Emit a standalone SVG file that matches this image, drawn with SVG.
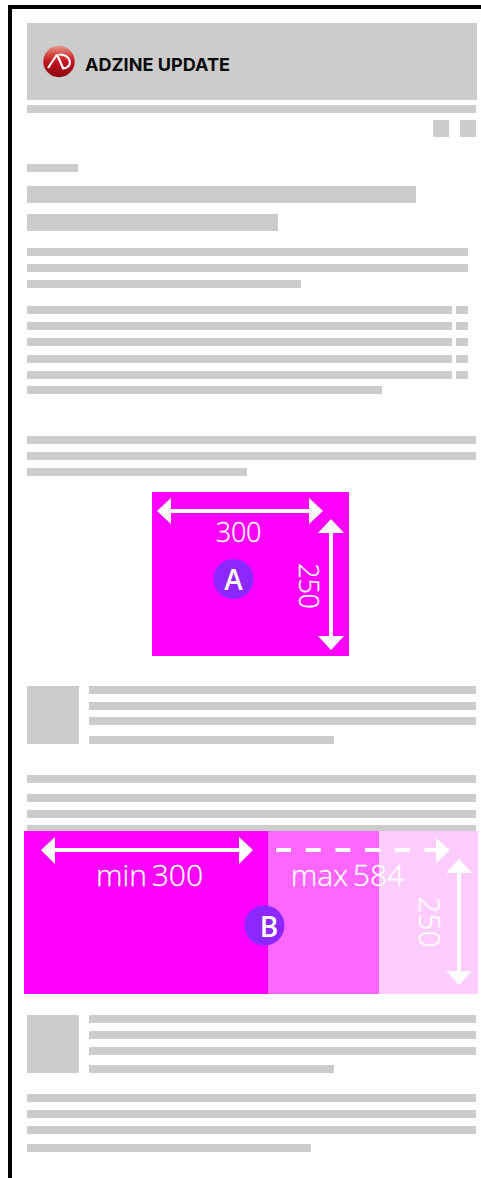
<svg xmlns="http://www.w3.org/2000/svg" width="481" height="1178" viewBox="0 0 481 1178">
<style>
.g{fill:#ccc}
.w{fill:#fff}
.l{stroke:#fff;stroke-width:4;fill:none}
.t{font-family:"Open Sans",Lato,sans-serif;font-weight:300;fill:#fff;stroke:#fff;stroke-width:.3;text-anchor:middle}
.b{font-family:"Open Sans",Lato,sans-serif;font-weight:600;fill:#fff;font-size:28px;text-anchor:middle}
.c{fill:#8c28ff}
</style>
<defs>
<linearGradient id="red" x1="0" y1="0" x2="0" y2="1">
<stop offset="0" stop-color="#e0958c"/><stop offset="0.3" stop-color="#d4453f"/><stop offset="0.55" stop-color="#bd0f1c"/><stop offset="1" stop-color="#8a0512"/>
</linearGradient>
</defs>
<rect width="481" height="1178" fill="#fff"/>
<path d="M10 1178V7H481" fill="none" stroke="#000" stroke-width="4"/>
<g id="page-lines">
<rect class="g" x="27" y="23" width="450" height="77"/>
<rect class="g" x="27" y="105" width="449" height="8"/>
<rect class="g" x="433" y="120" width="16" height="17"/>
<rect class="g" x="460" y="120" width="16" height="17"/>
<rect class="g" x="27" y="164" width="51" height="8"/>
<rect class="g" x="27" y="186" width="389" height="17"/>
<rect class="g" x="27" y="214" width="251" height="17"/>
<rect class="g" x="27" y="248" width="441" height="8"/>
<rect class="g" x="27" y="264" width="441" height="8"/>
<rect class="g" x="27" y="280" width="274" height="8"/>
<rect class="g" x="27" y="306" width="425" height="8"/><rect class="g" x="456" y="306" width="12" height="8"/>
<rect class="g" x="27" y="322" width="425" height="8"/><rect class="g" x="456" y="322" width="12" height="8"/>
<rect class="g" x="27" y="338" width="425" height="8"/><rect class="g" x="456" y="338" width="12" height="8"/>
<rect class="g" x="27" y="355" width="425" height="8"/><rect class="g" x="456" y="355" width="12" height="8"/>
<rect class="g" x="27" y="371" width="425" height="8"/><rect class="g" x="456" y="371" width="12" height="8"/>
<rect class="g" x="27" y="386" width="355" height="8"/>
<rect class="g" x="27" y="436" width="449" height="8"/>
<rect class="g" x="27" y="452" width="449" height="8"/>
<rect class="g" x="27" y="468" width="220" height="8"/>
<rect class="g" x="27" y="686" width="52" height="58"/>
<rect class="g" x="89" y="686" width="387" height="8"/>
<rect class="g" x="89" y="702" width="387" height="8"/>
<rect class="g" x="89" y="717" width="387" height="8"/>
<rect class="g" x="89" y="736" width="245" height="8"/>
<rect class="g" x="27" y="775" width="449" height="8"/>
<rect class="g" x="27" y="794" width="449" height="8"/>
<rect class="g" x="27" y="810" width="449" height="8"/>
<rect class="g" x="27" y="825" width="449" height="6"/>
<rect class="g" x="27" y="1015" width="52" height="58"/>
<rect class="g" x="89" y="1015" width="387" height="8"/>
<rect class="g" x="89" y="1031" width="387" height="8"/>
<rect class="g" x="89" y="1047" width="387" height="8"/>
<rect class="g" x="89" y="1065" width="245" height="8"/>
<rect class="g" x="27" y="1094" width="449" height="8"/>
<rect class="g" x="27" y="1110" width="449" height="8"/>
<rect class="g" x="27" y="1126" width="449" height="8"/>
<rect class="g" x="27" y="1144" width="284" height="8"/>
</g>
<g id="logo">
<circle cx="59" cy="61.500" r="15.700" fill="url(#red)"/>
<path d="M48 68L57 54.500M57 54.500L63 68M59 54.500C73 54 73 69 62 68.500" stroke="#fff" stroke-width="2.200" fill="none"/>
<text x="85" y="71" font-family="Inter,'Liberation Sans',sans-serif" font-weight="700" font-size="18" textLength="145" lengthAdjust="spacingAndGlyphs" fill="#0a0a0a">ADZINE UPDATE</text>
</g>
<g id="ad-a">
<rect x="152" y="492" width="197" height="164" fill="#f0f"/>
<text class="t" x="238.500" y="542" font-size="27" letter-spacing="-.3">300</text>
<text class="t" transform="translate(299 586) rotate(90)" font-size="27" letter-spacing="-.3">250</text>
<circle class="c" cx="233.500" cy="579" r="20"/>
<text class="b" x="233.500" y="590">A</text>
</g>
<g id="ad-b">
<rect x="24" y="831" width="244" height="163" fill="#f0f"/>
<rect x="268" y="831" width="111" height="163" fill="#f6f"/>
<rect x="379" y="831" width="99" height="163" fill="#fcf"/>
<text class="t" x="149.500" y="885.500" font-size="30" word-spacing="-3">min 300</text>
<text class="t" x="347.500" y="885.500" font-size="30" word-spacing="-3">max 584</text>
<text class="t" transform="translate(419 922) rotate(90)" font-size="30">250</text>
<circle class="c" cx="264.500" cy="925.500" r="20"/>
<text class="b" x="269" y="937">B</text>
</g>
<g id="connectors">
<path class="l" d="M170 511H310M331 530V638"/>
<path class="w" d="M157 511L171 498V524ZM323 511L309 498V524ZM331 519L318 533H344ZM331 650L318 636H344Z"/>
<path class="l" d="M50 850H245"/>
<path class="w" d="M41 850L55 837V864ZM253 850L239 837V864Z"/>
<path class="l" d="M276 850H440" stroke-dasharray="15 14.700"/>
<path class="w" d="M450 850L436 838V863Z"/>
<path class="l" d="M459 868V976"/>
<path class="w" d="M459 859L446 873H472ZM459 985L446 971H472Z"/>
</g>
</svg>
